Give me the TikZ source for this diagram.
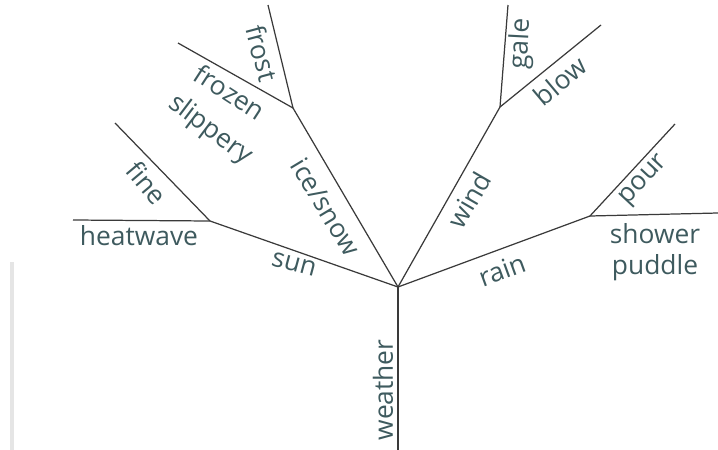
\documentclass[tikz,border=0pt]{standalone}
\usepackage{fontspec}
\setmainfont{Open Sans}
\usepackage{tikz}
\usepackage{xcolor}
\definecolor{ink}{HTML}{3E5A5E}
\definecolor{pencil}{HTML}{3A3A3A}

\begin{document}
\begin{tikzpicture}[x=0.02cm, y=-0.02cm,
  branch/.style={line width=0.7pt, pencil},
  word/.style={ink, font=\fontsize{15}{18}\selectfont, inner sep=0pt}]
  \useasboundingbox (0,0) rectangle (718,450);

  % page edge of the scan
  \draw[line width=2pt, black!10] (12,262) -- (12,450);

  % fork points and branch ends
  \coordinate (root) at (398,287);
  \coordinate (base) at (398,450);
  \coordinate (sunfork) at (210,221);
  \coordinate (heatend) at (73,220);
  \coordinate (fineend) at (115,123);
  \coordinate (icefork) at (293,108);
  \coordinate (frostend) at (268,5);
  \coordinate (frozenend) at (178,43);
  \coordinate (windfork) at (500,107);
  \coordinate (galeend) at (508,5);
  \coordinate (blowend) at (601,25);
  \coordinate (rainfork) at (590,216);
  \coordinate (showerend) at (718,213);
  \coordinate (pourend) at (675,124);

  % trunk and main branches
  \draw[branch] (base) -- (root);
  \draw[branch] (root) -- (sunfork);
  \draw[branch] (root) -- (icefork);
  \draw[branch] (root) -- (windfork);
  \draw[branch] (root) -- (rainfork);

  % twigs
  \draw[branch] (sunfork) -- (heatend);
  \draw[branch] (sunfork) -- (fineend);
  \draw[branch] (icefork) -- (frostend);
  \draw[branch] (icefork) -- (frozenend);
  \draw[branch] (windfork) -- (galeend);
  \draw[branch] (windfork) -- (blowend);
  \draw[branch] (rainfork) -- (showerend);
  \draw[branch] (rainfork) -- (pourend);

  % words
  \node[word, rotate=90] (weather) at (383,390) {weather};
  \node[word, rotate=-15] (sun) at (294,264) {sun};
  \node[word] (heatwave) at (139,236) {heatwave};
  \node[word, rotate=-50] (fine) at (147,183) {fine};
  \node[word, rotate=-59] (icesnow) at (326,207) {ice/snow};
  \node[word, rotate=-37] (slippery) at (210,130) {slippery};
  \node[word, rotate=-33] (frozen) at (230,92) {frozen};
  \node[word, rotate=-75] (frost) at (262,53) {frost};
  \node[word, rotate=60] (wind) at (469,200) {wind};
  \node[word, rotate=87] (gale) at (521,44) {gale};
  \node[word, rotate=40] (blow) at (560,81) {blow};
  \node[word, rotate=20] (rain) at (502,270) {rain};
  \node[word, rotate=47] (pour) at (645,181) {pour};
  \node[word] (shower) at (655,234) {shower};
  \node[word] (puddle) at (655,268) {puddle};
\end{tikzpicture}
\end{document}
